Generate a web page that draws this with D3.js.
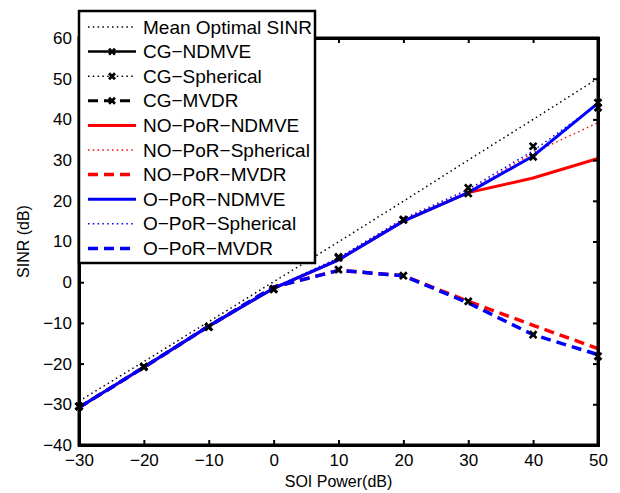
<!DOCTYPE html>
<html lang="en">
<head>
<meta charset="utf-8">
<title>SINR vs SOI Power</title>
<script src="https://d3js.org/d3.v7.min.js"></script>
<style>
  body { margin: 0; background: #fff; }
  svg { font-family: "Liberation Sans", Arial, sans-serif; }
</style>
</head>
<body>
<svg id="chart" width="620" height="493"></svg>
<script>
// data
var soiPower = [-30, -20, -10, 0, 10, 20, 30, 40, 50];
var xTicks = [-30, -20, -10, 0, 10, 20, 30, 40, 50];
var yTicks = [-40, -30, -20, -10, 0, 10, 20, 30, 40, 50, 60];

var meanOptimal = [-29.2, -19.5, -9.7, 0.1, 9.9, 19.9, 30, 40, 50.1];
var cgNdmve     = [-30.5, -20.8, -11, -1.7, 6.0, 15.3, 21.8, 30.8, 42.9];
var cgSpherical = [-30.5, -20.8, -11, -1.7, 6.2, 15.4, 23.2, 33.4, 44.1];
var cgMvdr      = [-30.5, -20.8, -11, -1.7, 3.1, 1.6, -4.7, -12.9, -18.2];
var noNdmve     = [-30.8, -20.9, -10.8, -1.5, 5.5, 15.0, 22.0, 25.6, 30.4];
var noSpherical = [-30.8, -20.9, -10.8, -1.4, 5.8, 15.4, 22.3, 31.8, 39.2];
var noMvdr      = [-30.8, -20.9, -10.8, -1.2, 2.9, 1.6, -4.7, -10.6, -16.3];
var oNdmve      = [-30.8, -20.9, -10.8, -1.5, 5.5, 15.0, 22.0, 31.0, 44.0];
var oSpherical  = [-30.8, -20.9, -10.8, -1.3, 6.0, 15.6, 22.8, 32.3, 43.8];
var oMvdr       = [-30.8, -20.9, -10.8, -1.2, 2.9, 1.6, -5.1, -12.9, -17.8];

var margin = {top: 38, right: 22, bottom: 48, left: 79},
    width = 620 - margin.left - margin.right,
    height = 493 - margin.top - margin.bottom;

var svg = d3.select("#chart");
var g = svg.append("g")
    .attr("transform", "translate(" + margin.left + "," + margin.top + ")");

var x = d3.scaleLinear().domain([-30, 50]).range([0, width]);
var y = d3.scaleLinear().domain([-40, 60]).range([height, 0]);

var line = d3.line()
    .x(function(d) { return x(d[0]); })
    .y(function(d) { return y(d[1]); });

function pairs(vals) { return soiPower.map(function(p, i) { return [p, vals[i]]; }); }

// line styles
var DOT = "1.5,3.3", DASH = "10,6";

var lines = [
  {vals: meanOptimal, color: "#000", w: 1.5, dash: DOT},
  {vals: noNdmve, color: "#ff0000", w: 3, dash: null},
  {vals: noSpherical, color: "#ff0000", w: 1.4, dash: DOT},
  {vals: noMvdr, color: "#ff0000", w: 3.5, dash: DASH},
  {vals: oNdmve, color: "#0000ff", w: 3, dash: null},
  {vals: oSpherical, color: "#0000ff", w: 1.4, dash: DOT},
  {vals: oMvdr, color: "#0000ff", w: 3.5, dash: DASH}
];

lines.forEach(function(s) {
  g.append("path")
    .datum(pairs(s.vals))
    .attr("fill", "none")
    .attr("stroke", s.color)
    .attr("stroke-width", s.w)
    .attr("stroke-dasharray", s.dash)
    .attr("d", line);
});

// CG markers
function cross(sel, cx, cy, r) {
  sel.append("path")
    .attr("d", "M" + (cx - r) + "," + (cy - r) + "L" + (cx + r) + "," + (cy + r) +
               "M" + (cx - r) + "," + (cy + r) + "L" + (cx + r) + "," + (cy - r))
    .attr("stroke", "#000")
    .attr("stroke-width", 2.7)
    .attr("fill", "none");
}
[cgNdmve, cgSpherical, cgMvdr].forEach(function(vals) {
  pairs(vals).forEach(function(d) {
    cross(g, x(d[0]), y(d[1]), 3.4);
  });
});

// axes: box with inward ticks
var fmt = function(d) { return d < 0 ? "\u2212" + Math.abs(d) : d; };
g.append("g")
  .attr("transform", "translate(0," + height + ")")
  .call(d3.axisBottom(x).tickValues(xTicks).tickSize(-5).tickPadding(9).tickFormat(fmt));
g.append("g")
  .call(d3.axisTop(x).tickValues(xTicks).tickSize(-5).tickFormat(""));
g.append("g")
  .call(d3.axisLeft(y).tickValues(yTicks).tickSize(-5).tickPadding(7).tickFormat(fmt));
g.append("g")
  .attr("transform", "translate(" + width + ",0)")
  .call(d3.axisRight(y).tickValues(yTicks).tickSize(-5).tickFormat(""));

g.selectAll(".domain").attr("stroke", "#000").attr("stroke-width", 3);
g.selectAll(".tick line").attr("stroke", "#000").attr("stroke-width", 2);
g.selectAll(".tick text").attr("fill", "#000").style("font-size", "17px")
  .style("font-family", "'Liberation Sans', Arial, sans-serif");
g.append("rect").attr("x", 0).attr("y", 0).attr("width", width).attr("height", height)
  .attr("fill", "none").attr("stroke", "#000").attr("stroke-width", 3);

// axis titles
svg.append("text")
  .attr("x", margin.left + width / 2)
  .attr("y", 487)
  .attr("text-anchor", "middle")
  .style("font-size", "16px")
  .text("SOI Power(dB)");
svg.append("text")
  .attr("transform", "translate(29," + (margin.top + height / 2) + ") rotate(-90)")
  .attr("text-anchor", "middle")
  .style("font-size", "16px")
  .text("SINR (dB)");

// legend
var legendItems = [
  {label: "Mean Optimal SINR", color: "#000", w: 1.5, dash: DOT, mark: false},
  {label: "CG\u2212NDMVE", color: "#000", w: 2.5, dash: null, mark: true},
  {label: "CG\u2212Spherical", color: "#000", w: 1.4, dash: DOT, mark: true},
  {label: "CG\u2212MVDR", color: "#000", w: 3, dash: DASH, mark: true},
  {label: "NO\u2212PoR\u2212NDMVE", color: "#ff0000", w: 3, dash: null, mark: false},
  {label: "NO\u2212PoR\u2212Spherical", color: "#ff0000", w: 1.4, dash: DOT, mark: false},
  {label: "NO\u2212PoR\u2212MVDR", color: "#ff0000", w: 3.5, dash: DASH, mark: false},
  {label: "O\u2212PoR\u2212NDMVE", color: "#0000ff", w: 3, dash: null, mark: false},
  {label: "O\u2212PoR\u2212Spherical", color: "#0000ff", w: 1.4, dash: DOT, mark: false},
  {label: "O\u2212PoR\u2212MVDR", color: "#0000ff", w: 3.5, dash: DASH, mark: false}
];

var lg = svg.append("g");
lg.append("rect")
  .attr("x", 79).attr("y", 11).attr("width", 236).attr("height", 252)
  .attr("fill", "#fff").attr("stroke", "#000").attr("stroke-width", 2.5);

legendItems.forEach(function(it, i) {
  var cy = 27 + i * 24.6;
  lg.append("line")
    .attr("x1", 88).attr("x2", 136).attr("y1", cy).attr("y2", cy)
    .attr("stroke", it.color).attr("stroke-width", it.w)
    .attr("stroke-dasharray", it.dash);
  if (it.mark) cross(lg, 112, cy, 3);
  lg.append("text")
    .attr("x", 143).attr("y", cy + 6.5)
    .style("font-size", "19px")
    .text(it.label);
});
</script>
</body>
</html>
